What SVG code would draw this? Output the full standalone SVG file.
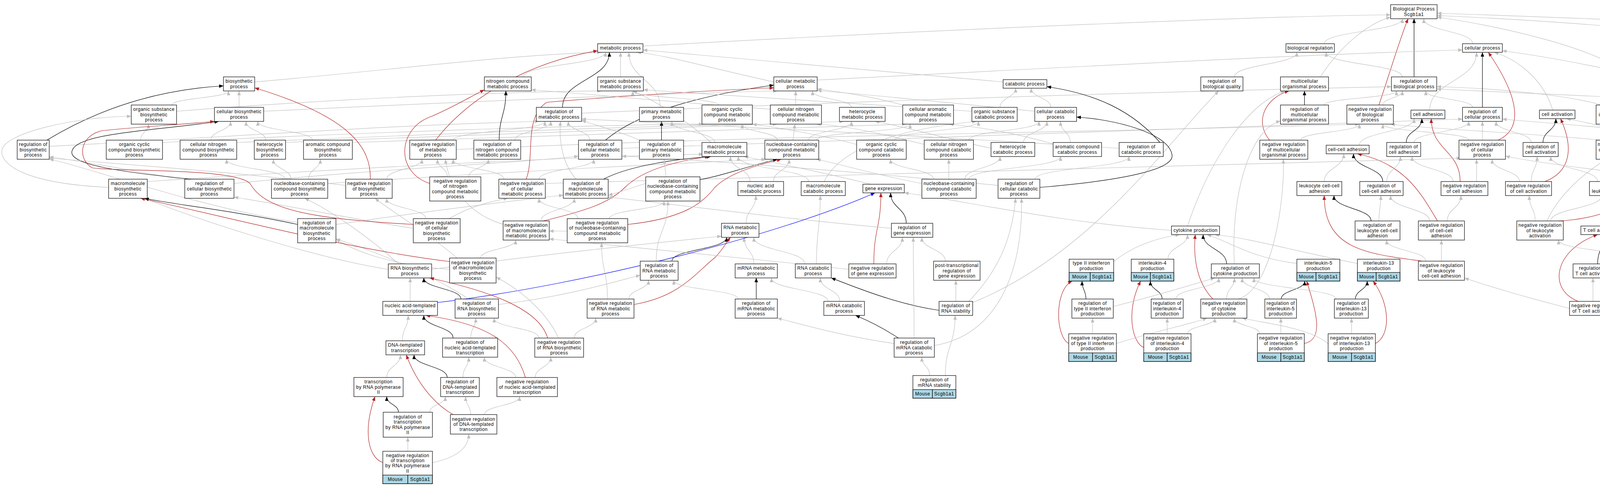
<svg xmlns="http://www.w3.org/2000/svg" width="6682" height="1245" viewBox="0 0 6682 1245">
<defs>
<marker id="ag" markerUnits="userSpaceOnUse" markerWidth="11" markerHeight="9" refX="11" refY="4.5" orient="auto"><path d="M0,0 L11,4.5 L0,9 z" fill="#c0c0c0"/></marker>
<marker id="ak" markerUnits="userSpaceOnUse" markerWidth="11" markerHeight="9" refX="11" refY="4.5" orient="auto"><path d="M0,0 L11,4.5 L0,9 z" fill="#000"/></marker>
<marker id="ar" markerUnits="userSpaceOnUse" markerWidth="11" markerHeight="9" refX="11" refY="4.5" orient="auto"><path d="M0,0 L11,4.5 L0,9 z" fill="#b22222"/></marker>
<marker id="ab" markerUnits="userSpaceOnUse" markerWidth="11" markerHeight="9" refX="11" refY="4.5" orient="auto"><path d="M0,0 L11,4.5 L0,9 z" fill="#0000ff"/></marker>
</defs>
<style>
.n rect{fill:#fff;stroke:#000;stroke-width:1.2}
.n rect.m{fill:#add8e6}
.n rect.t{fill:#ffd700}
.n text{font-family:"Liberation Sans",Arial,sans-serif;font-size:12px;letter-spacing:0.5px;text-anchor:middle;fill:#000}
.e path{fill:none;stroke-width:1.2}
.e .g{stroke:#c0c0c0;marker-end:url(#ag)}
.e .k{stroke:#000;marker-end:url(#ak)}
.e .r{stroke:#b22222;marker-end:url(#ar)}
.e .b{stroke:#0000ff;marker-end:url(#ab)}
</style>
<rect x="0" y="0" width="6682" height="1245" fill="#fff"/>
<g id="edges" class="e">
<path class="g" d="M1646,118 C2500,70 3300,40 3560,38"/>
<path class="g" d="M3390,112 C3390,80 3590,80 3590,48"/>
<path class="g" d="M3770,112 C3770,80 3645,80 3645,48"/>
<path class="k" d="M3620,197 L3620,48"/>
<path class="r" d="M3530,269 C3560,180 3590,80 3605,48"/>
<path class="g" d="M3380,197 C3430,120 3500,60 3560,44"/>
<path class="g" d="M4170,197 C4100,120 3800,60 3679,44"/>
<path class="g" d="M5505,200 C5000,150 4200,60 3679,40"/>
<path class="g" d="M5469,115 C5000,90 4200,50 3679,34"/>
<path class="g" d="M3590,197 C3590,165 3395,165 3395,134"/>
<path class="g" d="M3160,197 C3160,165 3320,165 3320,134"/>
<path class="k" d="M3339.5,269 L3339.5,233"/>
<path class="r" d="M3250,359 C3210,310 3240,250 3300,233"/>
<path class="g" d="M3040,579 C3100,400 3200,260 3290,233"/>
<path class="g" d="M3390,269 C3390,251 3575,251 3575,233"/>
<path class="g" d="M3540,269 C3540,251 3590,251 3590,233"/>
<path class="g" d="M3770,275 C3770,254 3650,254 3650,233"/>
<path class="g" d="M1489,290 C2400,250 3200,230 3562,222"/>
<path class="g" d="M4100,269 C4000,240 3800,225 3678,222"/>
<path class="g" d="M5045,290 C4600,270 3900,240 3678,228"/>
<path class="k" d="M3795,275 L3795,134"/>
<path class="r" d="M3835,359 C3900,330 3890,250 3810,134"/>
<path class="g" d="M3660,282 C3660,208 3780,208 3780,134"/>
<path class="g" d="M3975,282 C3950,200 3880,150 3825,134"/>
<path class="g" d="M4526,280 C4300,210 4000,150 3846,130"/>
<path class="g" d="M2092,205 C2600,180 3300,140 3744,128"/>
<path class="g" d="M3330,359 C3330,338 3480,338 3480,318"/>
<path class="g" d="M3760,359 C3760,338 3540,338 3540,318"/>
<path class="g" d="M4100,359 C3900,340 3650,330 3560,318"/>
<path class="g" d="M1168,383 C2000,345 3000,335 3480,318"/>
<path class="g" d="M3620,365 C3620,338 3760,338 3760,311"/>
<path class="g" d="M3920,365 C3920,338 3830,338 3830,311"/>
<path class="g" d="M3795,359 L3795,311"/>
<path class="g" d="M1592,380 C2500,345 3400,320 3744,305"/>
<path class="g" d="M4480,370 C4200,330 3950,315 3846,305"/>
<path class="k" d="M3600,365 C3600,335 3640,335 3640,304"/>
<path class="r" d="M3738,465 C3738,385 3664,385 3664,304"/>
<path class="g" d="M3720,465 C3720,433 3615,433 3615,401"/>
<path class="g" d="M3780,465 L3780,408"/>
<path class="g" d="M3480,372 C3480,338 3620,338 3620,304"/>
<path class="k" d="M3950,365 C3950,335 3983,335 3983,304"/>
<path class="r" d="M3955,465 C4020,440 4030,380 3995,304"/>
<path class="g" d="M3920,465 C3920,433 3935,433 3935,401"/>
<path class="g" d="M3890,465 C3890,437 3820,437 3820,408"/>
<path class="g" d="M4310,380 C4200,350 4100,320 4010,304"/>
<path class="k" d="M3540,465 C3540,430 3465,430 3465,394"/>
<path class="g" d="M3390,465 C3390,430 3440,430 3440,394"/>
<path class="r" d="M3680,566 C3640,500 3600,420 3475,394"/>
<path class="g" d="M3550,465 C3550,433 3585,433 3585,401"/>
<path class="g" d="M3660,566 C3660,534 3560,534 3560,501"/>
<path class="g" d="M3705,566 C3705,534 3740,534 3740,501"/>
<path class="k" d="M3510,566 C3510,534 3415,534 3415,501"/>
<path class="r" d="M3641,669 C3500,650 3390,640 3390,501"/>
<path class="g" d="M3530,566 C3530,534 3535,534 3535,501"/>
<path class="g" d="M3650,669 C3650,642 3550,642 3550,615"/>
<path class="g" d="M3690,669 L3690,615"/>
<path class="k" d="M4140,465 C4140,430 4330,430 4330,394"/>
<path class="r" d="M3990,566 C4150,560 4230,480 4340,394"/>
<path class="g" d="M4365,472 L4367,394"/>
<path class="g" d="M4350,372 C4350,300 4205,300 4205,233"/>
<path class="g" d="M4090,465 C4090,433 3970,433 3970,401"/>
<path class="g" d="M4160,465 C4240,420 4220,360 4180,318"/>
<path class="g" d="M3970,566 C3970,534 4100,534 4100,501"/>
<path class="g" d="M3930,566 C3930,534 3915,534 3915,501"/>
<path class="g" d="M3960,566 C4000,480 4080,430 4110,408"/>
<path class="k" d="M4155,269 C4155,251 4175,251 4175,233"/>
<path class="r" d="M4170,359 C4215,330 4210,280 4200,233"/>
<path class="g" d="M4140,359 L4140,318"/>
<path class="g" d="M4120,579 C4120,537 4330,537 4330,494"/>
<path class="k" d="M4090,676 C4090,639 4105,639 4105,601"/>
<path class="r" d="M4040,772 C3960,740 3980,640 4090,601"/>
<path class="g" d="M4078,772 L4078,712"/>
<path class="g" d="M4110,676 C4110,642 4210,642 4210,608"/>
<path class="g" d="M4120,772 C4120,745 4190,745 4190,718"/>
<path class="g" d="M4018,790 C3900,760 3800,730 3749,712"/>
<path class="g" d="M4338,682 C4300,650 4200,620 4140,601"/>
<path class="k" d="M4280,572 C4280,533 4345,533 4345,494"/>
<path class="g" d="M4240,572 C4240,537 4160,537 4160,501"/>
<path class="r" d="M4250,669 C4350,640 4380,620 4370,494"/>
<path class="g" d="M4240,669 C4240,639 4260,639 4260,608"/>
<path class="g" d="M4190,669 C4190,642 3990,642 3990,615"/>
<path class="g" d="M4490,579 C4490,537 4390,537 4390,494"/>
<path class="k" d="M4540,359 C4540,335 4565,335 4565,311"/>
<path class="r" d="M4560,459 C4610,430 4610,360 4590,311"/>
<path class="g" d="M4530,459 L4528,408"/>
<path class="g" d="M4476,480 C4200,450 3950,420 3854,400"/>
<path class="g" d="M4740,372 C4740,342 4605,342 4605,311"/>
<path class="g" d="M4705,465 C4705,430 4750,430 4750,394"/>
<path class="k" d="M4830,465 C4830,430 4790,430 4790,394"/>
<path class="r" d="M4920,566 C4960,520 4930,460 4800,394"/>
<path class="g" d="M4800,465 C4800,437 4570,437 4570,408"/>
<path class="g" d="M4540,579 C4540,540 4660,540 4660,501"/>
<path class="k" d="M4690.5,566 L4690.5,501"/>
<path class="r" d="M4780,669 C4790,600 4760,530 4710,501"/>
<path class="g" d="M4730,566 C4730,534 4820,534 4820,501"/>
<path class="g" d="M4760,669 C4760,642 4720,642 4720,615"/>
<path class="g" d="M4830,669 C4830,642 4870,642 4870,615"/>
<path class="g" d="M4890,566 C4890,534 4870,534 4870,501"/>
<path class="g" d="M4845,566 C4845,537 4580,537 4580,508"/>
<path class="k" d="M4565,676 C4565,639 4530,639 4530,601"/>
<path class="r" d="M4620,766 C4700,730 4680,680 4540,601"/>
<path class="g" d="M4600,676 C4600,645 4670,645 4670,615"/>
<path class="g" d="M4520,676 C4520,642 4320,642 4320,608"/>
<path class="g" d="M4577,766 L4577,712"/>
<path class="g" d="M4630,766 C4630,742 4770,742 4770,718"/>
<path class="g" d="M4525,766 C4525,742 4280,742 4280,718"/>
<path class="g" d="M4440,671 C4440,636 4510,636 4510,601"/>
<path class="k" d="M4380,772 C4380,744 4370,744 4370,716"/>
<path class="g" d="M4420,772 C4420,742 4550,742 4550,712"/>
<path class="g" d="M4340,772 C4340,742 4110,742 4110,712"/>
<path class="g" d="M4345,861 C4345,835 4370,835 4370,808"/>
<path class="r" d="M4330,861 C4290,840 4280,760 4345,716"/>
<path class="g" d="M4395,861 C4395,838 4560,838 4560,815"/>
<path class="g" d="M4280,861 C4280,835 4100,835 4100,808"/>
<path class="g" d="M2990,664 C2990,632 3040,632 3040,601"/>
<path class="k" d="M3140,676 C3140,638 3080,638 3080,601"/>
<path class="r" d="M3105,766 C3060,720 3055,650 3060,601"/>
<path class="g" d="M3320,675 C3200,660 3150,620 3090,601"/>
<path class="g" d="M3475,675 C3300,640 3200,610 3110,601"/>
<path class="g" d="M2851,670 C2900,630 2960,610 3020,601"/>
<path class="g" d="M2999,590 C2700,570 2450,510 2315,494"/>
<path class="g" d="M3160,676 C3150,500 3200,330 3278,310"/>
<path class="g" d="M3140,766 C3140,739 3160,739 3160,712"/>
<path class="g" d="M3170,766 C3260,740 3290,500 3285,408"/>
<path class="k" d="M2975,766 C2975,743 2945,743 2945,720"/>
<path class="g" d="M3010,766 C3010,739 3120,739 3120,712"/>
<path class="g" d="M2988,855 L2988,815"/>
<path class="r" d="M2928,890 C2900,880 2880,800 2920,720"/>
<path class="g" d="M3040,855 C3040,835 3110,835 3110,815"/>
<path class="k" d="M3280,766 C3280,743 3340,743 3340,720"/>
<path class="g" d="M3250,766 C3250,739 3180,739 3180,712"/>
<path class="g" d="M3279,855 L3279,815"/>
<path class="r" d="M3339,880 C3390,870 3370,800 3345,720"/>
<path class="g" d="M3225,855 C3225,835 3160,835 3160,815"/>
<path class="k" d="M3470,766 C3470,743 3500,743 3500,720"/>
<path class="g" d="M3420,766 C3420,739 3210,739 3210,712"/>
<path class="g" d="M3460,855 L3460,815"/>
<path class="r" d="M3521,880 C3560,860 3560,780 3515,720"/>
<path class="g" d="M3400,880 C3350,840 3250,830 3180,815"/>
<path class="k" d="M2780,766 C2780,743 2770,743 2770,720"/>
<path class="g" d="M2850,785 C2950,760 3050,730 3110,712"/>
<path class="g" d="M2797,855 L2797,815"/>
<path class="r" d="M2736,880 C2700,860 2700,740 2745,720"/>
<path class="g" d="M2858,880 C2950,850 3050,830 3090,815"/>
<path class="g" d="M652,210 C1000,180 1300,140 1540,134"/>
<path class="g" d="M612,275 L612,233"/>
<path class="g" d="M675,285 C1200,260 1700,240 1990,233"/>
<path class="g" d="M440,269 C440,251 585,251 585,233"/>
<path class="g" d="M452,285 C900,250 1300,235 1540,233"/>
<path class="k" d="M120,359 C250,280 400,230 572,220"/>
<path class="g" d="M126,375 C600,350 1000,320 1380,311"/>
<path class="g" d="M360,359 C360,338 380,338 380,318"/>
<path class="g" d="M416,365 C900,340 1500,320 1800,318"/>
<path class="g" d="M540,359 C540,335 590,335 590,311"/>
<path class="g" d="M606,365 C1200,340 1700,320 1990,318"/>
<path class="g" d="M680,359 C680,335 630,335 630,311"/>
<path class="g" d="M731,365 C1300,340 1900,320 2160,311"/>
<path class="g" d="M800,359 C800,335 660,335 660,311"/>
<path class="g" d="M902,365 C1500,345 2000,325 2320,318"/>
<path class="g" d="M278,480 C60,470 0,420 5,385 C10,340 200,298 336,298"/>
<path class="g" d="M377,465 C900,430 1500,400 1800,395"/>
<path class="g" d="M480,462 C350,440 200,410 126,402"/>
<path class="k" d="M490,459 C300,440 170,420 185,385 C200,340 400,335 560,311"/>
<path class="g" d="M599,470 C1000,430 1300,420 1481,400"/>
<path class="g" d="M745,459 C745,433 700,433 700,408"/>
<path class="g" d="M790,459 C790,433 820,433 820,408"/>
<path class="g" d="M730,459 C730,433 580,433 580,408"/>
<path class="g" d="M839,470 C1300,440 1700,420 1960,408"/>
<path class="g" d="M885,475 C600,440 300,420 126,405"/>
<path class="r" d="M948,459 C950,380 900,300 652,225"/>
<path class="g" d="M990,459 C990,433 1080,433 1080,408"/>
<path class="r" d="M1115,359 C1200,250 1350,160 1530,130"/>
<path class="g" d="M1160,359 C1160,335 1395,335 1395,311"/>
<path class="k" d="M1440,275 C1440,204 1560,204 1560,134"/>
<path class="g" d="M1340,197 C1340,165 1550,165 1550,134"/>
<path class="k" d="M1278,359 C1278,296 1295,296 1295,233"/>
<path class="g" d="M1318,359 C1318,335 1410,335 1410,311"/>
<path class="g" d="M1200,453 C1200,430 1250,430 1250,408"/>
<path class="g" d="M1145,453 C1145,430 1120,430 1120,408"/>
<path class="r" d="M1100,470 C1010,440 1020,330 1100,300 C1150,280 1200,250 1240,230"/>
<path class="g" d="M1588.5,197 L1588.5,134"/>
<path class="g" d="M1690,275 C1690,204 1610,204 1610,134"/>
<path class="g" d="M1981,210 C1800,170 1700,140 1630,134"/>
<path class="g" d="M1510,359 C1510,335 1455,335 1455,311"/>
<path class="k" d="M1550,359 C1620,300 1750,250 1981,218"/>
<path class="k" d="M1693.5,359 L1693.5,311"/>
<path class="g" d="M1650,365 C1600,340 1520,320 1489,308"/>
<path class="g" d="M1380,459 C1380,433 1520,433 1520,408"/>
<path class="g" d="M1290,459 C1290,433 1160,433 1160,408"/>
<path class="r" d="M1347,459 C1370,400 1340,300 1400,262 C1600,245 1850,230 1981,225"/>
<path class="g" d="M1396,470 C2500,440 3400,420 3740,405"/>
<path class="g" d="M1475,459 C1440,420 1430,360 1435,311"/>
<path class="k" d="M1545,459 C1600,430 1700,410 1820,401"/>
<path class="g" d="M1385,566 C1385,537 1470,537 1470,508"/>
<path class="g" d="M1290,575 C1200,550 1150,480 1140,408"/>
<path class="r" d="M1390,566 C1500,540 1560,520 1600,480 C1650,430 1750,410 1815,401"/>
<path class="k" d="M1792,460 C1850,450 1900,430 1990,408"/>
<path class="g" d="M1705,453 L1700,408"/>
<path class="g" d="M1653,470 C1620,480 1580,495 1557,500"/>
<path class="g" d="M1560,560 C1560,537 1700,537 1700,515"/>
<path class="r" d="M1607,575 C1750,560 1800,520 1830,480 C1870,440 1950,420 2000,408"/>
<path class="g" d="M1452,592 L1406,592"/>
<path class="g" d="M1480,560 C1480,534 1380,534 1380,508"/>
<path class="g" d="M1830,365 C1830,338 1720,338 1720,311"/>
<path class="g" d="M1820,365 C1750,300 1660,250 1620,233"/>
<path class="g" d="M1990,359 C1990,338 1900,338 1900,318"/>
<path class="g" d="M2030,359 L2035,318"/>
<path class="g" d="M2070,359 C2070,335 2180,335 2180,311"/>
<path class="g" d="M2090,359 C2090,338 2330,338 2330,318"/>
<path class="g" d="M1840,269 C1840,251 1620,251 1620,233"/>
<path class="g" d="M2037,269 L2037,233"/>
<path class="g" d="M1975,280 C1700,260 1500,240 1360,230"/>
<path class="g" d="M2180,275 C2180,254 2080,254 2080,233"/>
<path class="g" d="M2320,272 C2250,250 2150,235 2092,228"/>
<path class="g" d="M1920,465 C1920,433 1870,433 1870,401"/>
<path class="g" d="M1980,465 C1980,437 2020,437 2020,408"/>
<path class="g" d="M2070,465 C2070,433 1890,433 1890,401"/>
<path class="g" d="M2110,465 C2150,380 2300,330 2500,311"/>
<path class="g" d="M2230,472 C2100,440 1950,410 1905,401"/>
<path class="g" d="M1910,572 C1910,537 1935,537 1935,501"/>
<path class="k" d="M1720,669 C1720,639 1860,639 1860,608"/>
<path class="g" d="M1680,669 C1680,592 1710,592 1710,515"/>
<path class="g" d="M1610,766 C1610,742 1660,742 1660,718"/>
<path class="r" d="M1623,780 C1740,760 1780,700 1830,660 C1850,640 1860,620 1870,608"/>
<path class="g" d="M1555,766 C1555,694 1540,694 1540,622"/>
<path class="g" d="M1930,676 C1930,642 1905,642 1905,608"/>
<path class="g" d="M2060,676 C2060,642 1930,642 1930,608"/>
<path class="g" d="M2090,676 C2090,588 2100,588 2100,501"/>
<path class="k" d="M1936,766 L1936,712"/>
<path class="g" d="M1890,766 C1890,742 1725,742 1725,718"/>
<path class="g" d="M2150,772 C2150,742 2100,742 2100,712"/>
<path class="g" d="M2120,772 C2120,742 1975,742 1975,712"/>
<path class="r" d="M2237,676 C2237,585 2255,585 2255,494"/>
<path class="g" d="M2270,676 C2270,642 2310,642 2310,608"/>
<path class="g" d="M2173,690 C1900,660 1600,630 1406,612"/>
<path class="k" d="M2320,572 C2320,533 2280,533 2280,494"/>
<path class="g" d="M2282,585 C2000,560 1700,520 1557,505"/>
<path class="g" d="M2420,669 C2420,638 2360,638 2360,608"/>
<path class="g" d="M2447,772 L2447,718"/>
<path class="k" d="M2404,795 C2300,780 2200,740 2128,712"/>
<path class="g" d="M2480,772 C2550,700 2590,620 2600,508"/>
<path class="g" d="M2490,775 C2800,650 3000,350 3120,233"/>
<path class="k" d="M2300,866 C2260,840 2220,820 2190,808"/>
<path class="g" d="M2340,866 C2340,737 2338,737 2338,608"/>
<path class="g" d="M2289,880 C2150,860 2050,830 1990,815"/>
<path class="g" d="M2392,885 C2550,860 2620,700 2615,508"/>
<path class="g" d="M2420,962 C2420,885 2445,885 2445,808"/>
<path class="g" d="M2380,962 C2380,938 2360,938 2360,915"/>
<path class="g" d="M2568,210 C2200,180 1900,150 1646,128"/>
<path class="g" d="M2560,275 C2560,250 2600,250 2600,226"/>
<path class="g" d="M2690,275 C2690,250 2640,250 2640,226"/>
<path class="g" d="M2488,285 C2100,260 1800,240 1647,230"/>
<path class="g" d="M2649,285 C2400,260 2200,240 2092,232"/>
<path class="k" d="M2978,375 C2900,280 2800,240 2680,222"/>
<path class="g" d="M2865,380 C2400,350 1800,320 1489,305"/>
<path class="k" d="M2662,480 C2900,460 3010,430 3000,395 C2990,340 2850,305 2756,300"/>
<path class="g" d="M2650,459 C2650,430 2890,430 2890,401"/>
<path class="g" d="M2555,475 C2200,440 1800,410 1592,400"/>
<path class="g" d="M2620,365 C2620,338 2680,338 2680,311"/>
<path class="g" d="M2537,380 C2400,350 2300,320 2240,311"/>
<path class="g" d="M2470,459 C2470,430 2560,430 2560,401"/>
<path class="g" d="M2480,459 C2480,430 2715,430 2715,401"/>
<path class="g" d="M2429,459 L2429,408"/>
<path class="g" d="M2390,459 C2390,433 2280,433 2280,408"/>
<path class="g" d="M2360,470 C2250,450 2150,420 2090,408"/>
<path class="g" d="M2480,359 C2480,335 2660,335 2660,311"/>
<path class="g" d="M2366,370 C2250,340 2150,320 2090,318"/>
<path class="g" d="M2740,365 C2740,338 2715,338 2715,311"/>
<path class="g" d="M2700,370 C2600,340 2500,325 2430,318"/>
<path class="g" d="M2290,359 C2290,335 2505,335 2505,311"/>
<path class="g" d="M2193,370 C2100,345 1980,325 1926,318"/>
<path class="g" d="M1020,676 C960,620 850,540 780,508"/>
<path class="g" d="M1105,690 C1400,650 1700,620 1847,605"/>
<path class="g" d="M994,690 C800,660 500,560 370,508"/>
<path class="g" d="M1050,772 L1050,712"/>
<path class="b" d="M1120,775 C1500,730 2000,600 2240,494"/>
<path class="g" d="M1030,873 C1030,840 1045,840 1045,808"/>
<path class="g" d="M990,967 C990,938 1025,938 1025,909"/>
<path class="k" d="M1020,1056 C1020,1036 990,1036 990,1016"/>
<path class="g" d="M1100,1056 C1100,1036 1140,1036 1140,1016"/>
<path class="r" d="M980,1185 C940,1170 930,1100 960,1016"/>
<path class="g" d="M1044,1156 L1044,1120"/>
<path class="g" d="M1107,1185 C1180,1170 1200,1140 1200,1112"/>
<path class="k" d="M1145,967 C1145,938 1060,938 1060,909"/>
<path class="g" d="M1185,967 C1185,941 1200,941 1200,915"/>
<path class="r" d="M1160,1062 C1120,1040 1070,990 1040,909"/>
<path class="g" d="M1205,1062 C1205,1039 1192,1039 1192,1016"/>
<path class="g" d="M1240,1062 C1240,1039 1330,1039 1330,1016"/>
<path class="k" d="M1160,866 C1160,837 1085,837 1085,808"/>
<path class="g" d="M1205,866 C1205,840 1218,840 1218,815"/>
<path class="r" d="M1345,967 C1320,880 1250,830 1090,808"/>
<path class="g" d="M1320,967 C1320,941 1240,941 1240,915"/>
<path class="g" d="M1370,967 C1370,941 1410,941 1410,915"/>
<path class="k" d="M1180,766 C1180,739 1085,739 1085,712"/>
<path class="g" d="M1276,780 C1450,760 1580,720 1639,705"/>
<path class="g" d="M1200,766 C1100,700 950,640 860,612"/>
<path class="g" d="M1380,866 C1380,840 1265,840 1265,815"/>
<path class="r" d="M1402,866 C1380,790 1250,745 1100,712"/>
<path class="g" d="M1470,866 C1470,840 1525,840 1525,815"/>
<path class="g" d="M1430,866 C1400,800 1330,740 1270,710"/>
<path class="k" d="M762,575 C600,540 420,520 370,508"/>
<path class="g" d="M762,570 C500,530 200,420 126,408"/>
<path class="g" d="M860,575 C1100,540 1350,510 1442,500"/>
<path class="g" d="M1151,690 C1000,680 900,640 860,612"/>
<path class="r" d="M1151,670 C900,640 600,560 360,508"/>
<path class="g" d="M1170,661 C1100,600 1000,540 960,508"/>
<path class="g" d="M1230,661 C1230,638 1320,638 1320,615"/>
<path class="g" d="M1058,585 C900,560 700,520 599,505"/>
<path class="g" d="M1090,560 C1090,534 990,534 990,508"/>
<path class="r" d="M1058,575 C800,560 680,540 640,470 C600,430 300,440 236,430 C200,410 200,350 260,335 C350,325 480,318 549,311"/>
<path class="g" d="M1150,560 C1200,530 1260,515 1300,508"/>
<path class="g" d="M5542,275 L5542,233"/>
<path class="g" d="M5680,275 C5680,254 5565,254 5565,233"/>
<path class="g" d="M5810,275 C5810,254 5578,254 5578,233"/>
<path class="g" d="M5415,280 C5460,260 5490,240 5510,233"/>
<path class="g" d="M6401,290 C6000,270 5700,240 5582,225"/>
<path class="k" d="M5127,290 C5300,260 5420,235 5502,225"/>
<path class="g" d="M4960,359 C4960,338 5060,338 5060,318"/>
<path class="k" d="M4977,365 C5100,340 5250,320 5336,305"/>
<path class="g" d="M5200,359 C5200,338 5110,338 5110,318"/>
<path class="k" d="M5280,359 C5350,330 5420,320 5488,305"/>
<path class="g" d="M5110,372 C5110,341 5350,341 5350,311"/>
<path class="k" d="M5079,465 L5079,394"/>
<path class="g" d="M5050,465 C5050,437 4960,437 4960,408"/>
<path class="g" d="M5200,465 C5200,430 5110,430 5110,394"/>
<path class="k" d="M5224,555 L5224,501"/>
<path class="g" d="M5169,580 C5120,570 5100,540 5090,501"/>
<path class="g" d="M5279,580 C5330,570 5320,480 5270,408"/>
<path class="g" d="M5385,365 L5380,311"/>
<path class="g" d="M5410,459 C5410,430 5395,430 5395,401"/>
<path class="g" d="M5450,459 C5450,433 5510,433 5510,408"/>
<path class="g" d="M5428,562 L5428,508"/>
<path class="g" d="M5479,580 C5650,560 5720,520 5715,401"/>
<path class="g" d="M5590,359 C5590,335 5680,335 5680,311"/>
<path class="g" d="M5709.5,365 L5709.5,311"/>
<path class="g" d="M5865,359 C5865,335 5850,335 5850,311"/>
<path class="g" d="M5820,365 C5700,340 5650,320 5598,311"/>
<path class="g" d="M5956,375 C5900,340 5800,320 5749,311"/>
<path class="g" d="M5590,454 C5590,431 5555,431 5555,408"/>
<path class="g" d="M5660,454 C5660,428 5710,428 5710,401"/>
<path class="g" d="M5870,465 L5868,408"/>
<path class="g" d="M5924,470 C6100,440 6120,380 6050,300 C5950,200 5750,140 5593,128"/>
<path class="g" d="M6122,470 C6150,460 6150,420 6177,410"/>
<path class="g" d="M5876,572 L5876,501"/>
<path class="b" d="M5876,669 L5876,608"/>
<path class="g" d="M5840,669 C5780,630 5790,500 5830,408"/>
<path class="g" d="M5910,669 C6000,600 5960,450 6177,412"/>
<path class="g" d="M5876,761 L5876,718"/>
<path class="g" d="M5816,780 C5600,770 5540,600 5535,408"/>
<path class="g" d="M5936,780 C6050,760 6150,620 6200,501"/>
<path class="g" d="M6177,375 C6000,340 5850,320 5749,305"/>
<path class="g" d="M6206,465 L6210,412"/>
<path class="g" d="M6310,459 C6310,435 6230,435 6230,412"/>
<path class="g" d="M6450,465 C6400,440 6300,430 6245,412"/>
<path class="g" d="M6468,465 L6468,311"/>
<path class="g" d="M6310,572 C6310,536 6225,536 6225,501"/>
<path class="g" d="M6336,572 L6336,508"/>
<path class="g" d="M6360,572 C6360,536 6450,536 6450,501"/>
<path class="g" d="M6336,676 L6336,608"/>
<path class="g" d="M6336,761 L6336,712"/>
<path class="g" d="M6560,365 C6560,338 6500,338 6500,311"/>
<path class="g" d="M6608,448 C6608,425 6595,425 6595,401"/>
</g>
<g id="n-BP" class="n"><rect x="3560" y="12" width="119" height="36"/><text><tspan x="3619.5" y="27.4">Biological Process</tspan><tspan x="3619.5" y="40.7">Scgb1a1</tspan></text></g>
<g id="n-MP" class="n"><rect x="1530" y="112" width="116" height="22"/><text><tspan x="1588" y="127">metabolic process</tspan></text></g>
<g id="n-BR" class="n"><rect x="3292" y="112" width="124" height="22"/><text><tspan x="3354" y="127">biological regulation</tspan></text></g>
<g id="n-CP" class="n"><rect x="3744" y="112" width="102" height="22"/><text><tspan x="3795" y="127">cellular process</tspan></text></g>
<g id="n-BPI" class="n"><rect x="5469" y="84" width="124" height="76"/><text><tspan x="5531" y="99.4">biological process</tspan><tspan x="5531" y="112.7">involved in</tspan><tspan x="5531" y="126">interspecies</tspan><tspan x="5531" y="139.3">interaction</tspan><tspan x="5531" y="152.6">between organisms</tspan></text></g>
<g id="n-BS" class="n"><rect x="572" y="197" width="80" height="36"/><text><tspan x="612" y="212.4">biosynthetic</tspan><tspan x="612" y="225.7">process</tspan></text></g>
<g id="n-NCM" class="n"><rect x="1240" y="197" width="120" height="36"/><text><tspan x="1300" y="212.4">nitrogen compound</tspan><tspan x="1300" y="225.7">metabolic process</tspan></text></g>
<g id="n-OSM" class="n"><rect x="1530" y="197" width="117" height="36"/><text><tspan x="1588.5" y="212.4">organic substance</tspan><tspan x="1588.5" y="225.7">metabolic process</tspan></text></g>
<g id="n-CM" class="n"><rect x="1981" y="197" width="111" height="36"/><text><tspan x="2036.5" y="212.4">cellular metabolic</tspan><tspan x="2036.5" y="225.7">process</tspan></text></g>
<g id="n-CAT" class="n"><rect x="2568" y="204" width="112" height="22"/><text><tspan x="2624" y="219">catabolic process</tspan></text></g>
<g id="n-RBQ" class="n"><rect x="3074" y="197" width="108" height="36"/><text><tspan x="3128" y="212.4">regulation of</tspan><tspan x="3128" y="225.7">biological quality</tspan></text></g>
<g id="n-MOP" class="n"><rect x="3278" y="197" width="123" height="36"/><text><tspan x="3339.5" y="212.4">multicellular</tspan><tspan x="3339.5" y="225.7">organismal process</tspan></text></g>
<g id="n-RBP" class="n"><rect x="3562" y="197" width="116" height="36"/><text><tspan x="3620" y="212.4">regulation of</tspan><tspan x="3620" y="225.7">biological process</tspan></text></g>
<g id="n-ISP" class="n"><rect x="4136" y="197" width="102" height="36"/><text><tspan x="4187" y="212.4">immune system</tspan><tspan x="4187" y="225.7">process</tspan></text></g>
<g id="n-RS" class="n"><rect x="5502" y="197" width="80" height="36"/><text><tspan x="5542" y="212.4">response to</tspan><tspan x="5542" y="225.7">stimulus</tspan></text></g>
<g id="n-OSB" class="n"><rect x="336" y="269" width="116" height="49"/><text><tspan x="394" y="284.2">organic substance</tspan><tspan x="394" y="297.5">biosynthetic</tspan><tspan x="394" y="310.8">process</tspan></text></g>
<g id="n-CB" class="n"><rect x="549" y="275" width="126" height="36"/><text><tspan x="612" y="290.4">cellular biosynthetic</tspan><tspan x="612" y="303.7">process</tspan></text></g>
<g id="n-RMP" class="n"><rect x="1373" y="275" width="116" height="36"/><text><tspan x="1431" y="290.4">regulation of</tspan><tspan x="1431" y="303.7">metabolic process</tspan></text></g>
<g id="n-PM" class="n"><rect x="1637" y="275" width="113" height="36"/><text><tspan x="1693.5" y="290.4">primary metabolic</tspan><tspan x="1693.5" y="303.7">process</tspan></text></g>
<g id="n-OCCM" class="n"><rect x="1797" y="269" width="129" height="49"/><text><tspan x="1861.5" y="284.2">organic cyclic</tspan><tspan x="1861.5" y="297.5">compound metabolic</tspan><tspan x="1861.5" y="310.8">process</tspan></text></g>
<g id="n-CNCM" class="n"><rect x="1972" y="269" width="131" height="49"/><text><tspan x="2037.5" y="284.2">cellular nitrogen</tspan><tspan x="2037.5" y="297.5">compound metabolic</tspan><tspan x="2037.5" y="310.8">process</tspan></text></g>
<g id="n-HM" class="n"><rect x="2149" y="275" width="117" height="36"/><text><tspan x="2207.5" y="290.4">heterocycle</tspan><tspan x="2207.5" y="303.7">metabolic process</tspan></text></g>
<g id="n-CACM" class="n"><rect x="2311" y="269" width="130" height="49"/><text><tspan x="2376" y="284.2">cellular aromatic</tspan><tspan x="2376" y="297.5">compound metabolic</tspan><tspan x="2376" y="310.8">process</tspan></text></g>
<g id="n-OSC" class="n"><rect x="2488" y="275" width="116" height="36"/><text><tspan x="2546" y="290.4">organic substance</tspan><tspan x="2546" y="303.7">catabolic process</tspan></text></g>
<g id="n-CC" class="n"><rect x="2649" y="275" width="107" height="36"/><text><tspan x="2702.5" y="290.4">cellular catabolic</tspan><tspan x="2702.5" y="303.7">process</tspan></text></g>
<g id="n-RMOP" class="n"><rect x="3278" y="269" width="123" height="49"/><text><tspan x="3339.5" y="284.2">regulation of</tspan><tspan x="3339.5" y="297.5">multicellular</tspan><tspan x="3339.5" y="310.8">organismal process</tspan></text></g>
<g id="n-NRBP" class="n"><rect x="3448" y="269" width="119" height="49"/><text><tspan x="3507.5" y="284.2">negative regulation</tspan><tspan x="3507.5" y="297.5">of biological</tspan><tspan x="3507.5" y="310.8">process</tspan></text></g>
<g id="n-CA" class="n"><rect x="3612" y="282" width="87" height="22"/><text><tspan x="3655.5" y="297">cell adhesion</tspan></text></g>
<g id="n-RCP" class="n"><rect x="3744" y="275" width="102" height="36"/><text><tspan x="3795" y="290.4">regulation of</tspan><tspan x="3795" y="303.7">cellular process</tspan></text></g>
<g id="n-CACT" class="n"><rect x="3941" y="282" width="91" height="22"/><text><tspan x="3986.5" y="297">cell activation</tspan></text></g>
<g id="n-RISP" class="n"><rect x="4086" y="269" width="104" height="49"/><text><tspan x="4138" y="284.2">regulation of</tspan><tspan x="4138" y="297.5">immune system</tspan><tspan x="4138" y="310.8">process</tspan></text></g>
<g id="n-CPP" class="n"><rect x="4526" y="275" width="94" height="36"/><text><tspan x="4573" y="290.4">cell population</tspan><tspan x="4573" y="303.7">proliferation</tspan></text></g>
<g id="n-RRS" class="n"><rect x="5045" y="269" width="82" height="49"/><text><tspan x="5086" y="284.2">regulation of</tspan><tspan x="5086" y="297.5">response to</tspan><tspan x="5086" y="310.8">stimulus</tspan></text></g>
<g id="n-RST" class="n"><rect x="5336" y="275" width="79" height="36"/><text><tspan x="5375.5" y="290.4">response to</tspan><tspan x="5375.5" y="303.7">stress</tspan></text></g>
<g id="n-RES" class="n"><rect x="5488" y="275" width="110" height="36"/><text><tspan x="5543" y="290.4">response to</tspan><tspan x="5543" y="303.7">external stimulus</tspan></text></g>
<g id="n-RCH" class="n"><rect x="5670" y="275" width="79" height="36"/><text><tspan x="5709.5" y="290.4">response to</tspan><tspan x="5709.5" y="303.7">chemical</tspan></text></g>
<g id="n-RBS" class="n"><rect x="5805" y="275" width="95" height="36"/><text><tspan x="5852.5" y="290.4">response to</tspan><tspan x="5852.5" y="303.7">biotic stimulus</tspan></text></g>
<g id="n-REN" class="n"><rect x="6401" y="275" width="134" height="36"/><text><tspan x="6468" y="290.4">response to</tspan><tspan x="6468" y="303.7">endogenous stimulus</tspan></text></g>
<g id="n-RBSP" class="n"><rect x="44" y="359" width="82" height="49"/><text><tspan x="85" y="374.2">regulation of</tspan><tspan x="85" y="387.5">biosynthetic</tspan><tspan x="85" y="400.8">process</tspan></text></g>
<g id="n-OCCB" class="n"><rect x="272" y="359" width="144" height="49"/><text><tspan x="344" y="374.2">organic cyclic</tspan><tspan x="344" y="387.5">compound biosynthetic</tspan><tspan x="344" y="400.8">process</tspan></text></g>
<g id="n-CNCB" class="n"><rect x="461" y="359" width="145" height="49"/><text><tspan x="533.5" y="374.2">cellular nitrogen</tspan><tspan x="533.5" y="387.5">compound biosynthetic</tspan><tspan x="533.5" y="400.8">process</tspan></text></g>
<g id="n-HB" class="n"><rect x="651" y="359" width="80" height="49"/><text><tspan x="691" y="374.2">heterocycle</tspan><tspan x="691" y="387.5">biosynthetic</tspan><tspan x="691" y="400.8">process</tspan></text></g>
<g id="n-ACB" class="n"><rect x="777" y="359" width="125" height="49"/><text><tspan x="839.5" y="374.2">aromatic compound</tspan><tspan x="839.5" y="387.5">biosynthetic</tspan><tspan x="839.5" y="400.8">process</tspan></text></g>
<g id="n-NRMP" class="n"><rect x="1049" y="359" width="119" height="49"/><text><tspan x="1108.5" y="374.2">negative regulation</tspan><tspan x="1108.5" y="387.5">of metabolic</tspan><tspan x="1108.5" y="400.8">process</tspan></text></g>
<g id="n-RNCM" class="n"><rect x="1213" y="359" width="120" height="49"/><text><tspan x="1273" y="374.2">regulation of</tspan><tspan x="1273" y="387.5">nitrogen compound</tspan><tspan x="1273" y="400.8">metabolic process</tspan></text></g>
<g id="n-RCMP" class="n"><rect x="1481" y="359" width="111" height="49"/><text><tspan x="1536.5" y="374.2">regulation of</tspan><tspan x="1536.5" y="387.5">cellular metabolic</tspan><tspan x="1536.5" y="400.8">process</tspan></text></g>
<g id="n-RPM" class="n"><rect x="1637" y="359" width="113" height="49"/><text><tspan x="1693.5" y="374.2">regulation of</tspan><tspan x="1693.5" y="387.5">primary metabolic</tspan><tspan x="1693.5" y="400.8">process</tspan></text></g>
<g id="n-MM" class="n"><rect x="1797" y="365" width="115" height="36"/><text><tspan x="1854.5" y="380.4">macromolecule</tspan><tspan x="1854.5" y="393.7">metabolic process</tspan></text></g>
<g id="n-NBM" class="n"><rect x="1958" y="359" width="138" height="49"/><text><tspan x="2027" y="374.2">nucleobase-containing</tspan><tspan x="2027" y="387.5">compound metabolic</tspan><tspan x="2027" y="400.8">process</tspan></text></g>
<g id="n-OCCC" class="n"><rect x="2193" y="359" width="127" height="49"/><text><tspan x="2256.5" y="374.2">organic cyclic</tspan><tspan x="2256.5" y="387.5">compound catabolic</tspan><tspan x="2256.5" y="400.8">process</tspan></text></g>
<g id="n-CNCC" class="n"><rect x="2366" y="359" width="126" height="49"/><text><tspan x="2429" y="374.2">cellular nitrogen</tspan><tspan x="2429" y="387.5">compound catabolic</tspan><tspan x="2429" y="400.8">process</tspan></text></g>
<g id="n-HC" class="n"><rect x="2537" y="365" width="112" height="36"/><text><tspan x="2593" y="380.4">heterocycle</tspan><tspan x="2593" y="393.7">catabolic process</tspan></text></g>
<g id="n-ACC" class="n"><rect x="2696" y="365" width="124" height="36"/><text><tspan x="2758" y="380.4">aromatic compound</tspan><tspan x="2758" y="393.7">catabolic process</tspan></text></g>
<g id="n-RCAT" class="n"><rect x="2865" y="365" width="113" height="36"/><text><tspan x="2921.5" y="380.4">regulation of</tspan><tspan x="2921.5" y="393.7">catabolic process</tspan></text></g>
<g id="n-NRMOP" class="n"><rect x="3225" y="359" width="123" height="49"/><text><tspan x="3286.5" y="374.2">negative regulation</tspan><tspan x="3286.5" y="387.5">of multicellular</tspan><tspan x="3286.5" y="400.8">organismal process</tspan></text></g>
<g id="n-CCA" class="n"><rect x="3395" y="372" width="110" height="22"/><text><tspan x="3450" y="387">cell-cell adhesion</tspan></text></g>
<g id="n-RCA" class="n"><rect x="3550" y="365" width="87" height="36"/><text><tspan x="3593.5" y="380.4">regulation of</tspan><tspan x="3593.5" y="393.7">cell adhesion</tspan></text></g>
<g id="n-NRCP" class="n"><rect x="3735" y="359" width="119" height="49"/><text><tspan x="3794.5" y="374.2">negative regulation</tspan><tspan x="3794.5" y="387.5">of cellular</tspan><tspan x="3794.5" y="400.8">process</tspan></text></g>
<g id="n-RCACT" class="n"><rect x="3899" y="365" width="90" height="36"/><text><tspan x="3944" y="380.4">regulation of</tspan><tspan x="3944" y="393.7">cell activation</tspan></text></g>
<g id="n-NRISP" class="n"><rect x="4086" y="359" width="119" height="49"/><text><tspan x="4145.5" y="374.2">negative regulation</tspan><tspan x="4145.5" y="387.5">of immune system</tspan><tspan x="4145.5" y="400.8">process</tspan></text></g>
<g id="n-LA" class="n"><rect x="4303" y="372" width="126" height="22"/><text><tspan x="4366" y="387">leukocyte activation</tspan></text></g>
<g id="n-RCPP" class="n"><rect x="4480" y="359" width="93" height="49"/><text><tspan x="4526.5" y="374.2">regulation of</tspan><tspan x="4526.5" y="387.5">cell population</tspan><tspan x="4526.5" y="400.8">proliferation</tspan></text></g>
<g id="n-LP" class="n"><rect x="4697" y="372" width="138" height="22"/><text><tspan x="4766" y="387">leukocyte proliferation</tspan></text></g>
<g id="n-RRST" class="n"><rect x="4896" y="359" width="81" height="49"/><text><tspan x="4936.5" y="374.2">regulation of</tspan><tspan x="4936.5" y="387.5">response to</tspan><tspan x="4936.5" y="400.8">stress</tspan></text></g>
<g id="n-DR" class="n"><rect x="5022" y="372" width="114" height="22"/><text><tspan x="5079" y="387">defense response</tspan></text></g>
<g id="n-RRES" class="n"><rect x="5181" y="359" width="110" height="49"/><text><tspan x="5236" y="374.2">regulation of</tspan><tspan x="5236" y="387.5">response to</tspan><tspan x="5236" y="400.8">external stimulus</tspan></text></g>
<g id="n-ROS" class="n"><rect x="5337" y="365" width="103" height="36"/><text><tspan x="5388.5" y="380.4">response to</tspan><tspan x="5388.5" y="393.7">oxidative stress</tspan></text></g>
<g id="n-ROC" class="n"><rect x="5485" y="359" width="115" height="49"/><text><tspan x="5542.5" y="374.2">response to</tspan><tspan x="5542.5" y="387.5">oxygen-containing</tspan><tspan x="5542.5" y="400.8">compound</tspan></text></g>
<g id="n-RIS" class="n"><rect x="5646" y="365" width="127" height="36"/><text><tspan x="5709.5" y="380.4">response to</tspan><tspan x="5709.5" y="393.7">inorganic substance</tspan></text></g>
<g id="n-REBS" class="n"><rect x="5818" y="359" width="91" height="49"/><text><tspan x="5863.5" y="374.2">response to</tspan><tspan x="5863.5" y="387.5">external biotic</tspan><tspan x="5863.5" y="400.8">stimulus</tspan></text></g>
<g id="n-RXS" class="n"><rect x="5956" y="355" width="125" height="57"/><rect class="t" x="5956" y="390" width="63" height="22"/><rect class="t" x="6019" y="390" width="62" height="22"/><text><tspan x="6018.5" y="369.9">response to</tspan><tspan x="6018.5" y="383.2">xenobiotic stimulus</tspan><tspan x="5987.5" y="405">Rat</tspan><tspan x="6050" y="405">Scgb1a1</tspan></text></g>
<g id="n-ROSU" class="n"><rect x="6177" y="355" width="119" height="57"/><rect class="t" x="6177" y="390" width="59" height="22"/><rect class="t" x="6236" y="390" width="60" height="22"/><text><tspan x="6236.5" y="369.9">response to</tspan><tspan x="6236.5" y="383.2">organic substance</tspan><tspan x="6206.5" y="405">Rat</tspan><tspan x="6266" y="405">Scgb1a1</tspan></text></g>
<g id="n-RGF" class="n"><rect x="6541" y="365" width="86" height="36"/><text><tspan x="6584" y="380.4">response to</tspan><tspan x="6584" y="393.7">growth factor</tspan></text></g>
<g id="n-MB" class="n"><rect x="278" y="459" width="99" height="49"/><text><tspan x="327.5" y="474.2">macromolecule</tspan><tspan x="327.5" y="487.5">biosynthetic</tspan><tspan x="327.5" y="500.8">process</tspan></text></g>
<g id="n-RCB" class="n"><rect x="473" y="459" width="126" height="49"/><text><tspan x="536" y="474.2">regulation of</tspan><tspan x="536" y="487.5">cellular biosynthetic</tspan><tspan x="536" y="500.8">process</tspan></text></g>
<g id="n-NBB" class="n"><rect x="695" y="459" width="144" height="49"/><text><tspan x="767" y="474.2">nucleobase-containing</tspan><tspan x="767" y="487.5">compound biosynthetic</tspan><tspan x="767" y="500.8">process</tspan></text></g>
<g id="n-NRB" class="n"><rect x="885" y="459" width="119" height="49"/><text><tspan x="944.5" y="474.2">negative regulation</tspan><tspan x="944.5" y="487.5">of biosynthetic</tspan><tspan x="944.5" y="500.8">process</tspan></text></g>
<g id="n-NRNCM" class="n"><rect x="1100" y="453" width="131" height="62"/><text><tspan x="1165.5" y="468">negative regulation</tspan><tspan x="1165.5" y="481.4">of nitrogen</tspan><tspan x="1165.5" y="494.7">compound metabolic</tspan><tspan x="1165.5" y="508">process</tspan></text></g>
<g id="n-NRCMP" class="n"><rect x="1277" y="459" width="119" height="49"/><text><tspan x="1336.5" y="474.2">negative regulation</tspan><tspan x="1336.5" y="487.5">of cellular</tspan><tspan x="1336.5" y="500.8">metabolic process</tspan></text></g>
<g id="n-RMM" class="n"><rect x="1442" y="459" width="115" height="49"/><text><tspan x="1499.5" y="474.2">regulation of</tspan><tspan x="1499.5" y="487.5">macromolecule</tspan><tspan x="1499.5" y="500.8">metabolic process</tspan></text></g>
<g id="n-RNBM" class="n"><rect x="1653" y="453" width="139" height="62"/><text><tspan x="1722.5" y="468">regulation of</tspan><tspan x="1722.5" y="481.4">nucleobase-containing</tspan><tspan x="1722.5" y="494.7">compound metabolic</tspan><tspan x="1722.5" y="508">process</tspan></text></g>
<g id="n-NAM" class="n"><rect x="1889" y="465" width="117" height="36"/><text><tspan x="1947.5" y="480.4">nucleic acid</tspan><tspan x="1947.5" y="493.7">metabolic process</tspan></text></g>
<g id="n-MC" class="n"><rect x="2051" y="465" width="113" height="36"/><text><tspan x="2107.5" y="480.4">macromolecule</tspan><tspan x="2107.5" y="493.7">catabolic process</tspan></text></g>
<g id="n-GE" class="n"><rect x="2209" y="472" width="106" height="22"/><text><tspan x="2262" y="487">gene expression</tspan></text></g>
<g id="n-NBC" class="n"><rect x="2360" y="459" width="139" height="49"/><text><tspan x="2429.5" y="474.2">nucleobase-containing</tspan><tspan x="2429.5" y="487.5">compound catabolic</tspan><tspan x="2429.5" y="500.8">process</tspan></text></g>
<g id="n-RCC" class="n"><rect x="2555" y="459" width="107" height="49"/><text><tspan x="2608.5" y="474.2">regulation of</tspan><tspan x="2608.5" y="487.5">cellular catabolic</tspan><tspan x="2608.5" y="500.8">process</tspan></text></g>
<g id="n-LCCA" class="n"><rect x="3320" y="465" width="115" height="36"/><text><tspan x="3377.5" y="480.4">leukocyte cell-cell</tspan><tspan x="3377.5" y="493.7">adhesion</tspan></text></g>
<g id="n-RCCA" class="n"><rect x="3481" y="465" width="111" height="36"/><text><tspan x="3536.5" y="480.4">regulation of</tspan><tspan x="3536.5" y="493.7">cell-cell adhesion</tspan></text></g>
<g id="n-NRCA" class="n"><rect x="3689" y="465" width="120" height="36"/><text><tspan x="3749" y="480.4">negative regulation</tspan><tspan x="3749" y="493.7">of cell adhesion</tspan></text></g>
<g id="n-NRCACT" class="n"><rect x="3854" y="465" width="118" height="36"/><text><tspan x="3913" y="480.4">negative regulation</tspan><tspan x="3913" y="493.7">of cell activation</tspan></text></g>
<g id="n-RLA" class="n"><rect x="4069" y="465" width="127" height="36"/><text><tspan x="4132.5" y="480.4">regulation of</tspan><tspan x="4132.5" y="493.7">leukocyte activation</tspan></text></g>
<g id="n-LYA" class="n"><rect x="4293" y="472" width="138" height="22"/><text><tspan x="4362" y="487">lymphocyte activation</tspan></text></g>
<g id="n-NRCPP" class="n"><rect x="4476" y="459" width="119" height="49"/><text><tspan x="4535.5" y="474.2">negative regulation</tspan><tspan x="4535.5" y="487.5">of cell population</tspan><tspan x="4535.5" y="500.8">proliferation</tspan></text></g>
<g id="n-MCP" class="n"><rect x="4640" y="465" width="101" height="36"/><text><tspan x="4690.5" y="480.4">mononuclear</tspan><tspan x="4690.5" y="493.7">cell proliferation</tspan></text></g>
<g id="n-RLP" class="n"><rect x="4788" y="465" width="138" height="36"/><text><tspan x="4857" y="480.4">regulation of</tspan><tspan x="4857" y="493.7">leukocyte proliferation</tspan></text></g>
<g id="n-RDR" class="n"><rect x="5022" y="465" width="114" height="36"/><text><tspan x="5079" y="480.4">regulation of</tspan><tspan x="5079" y="493.7">defense response</tspan></text></g>
<g id="n-IR" class="n"><rect x="5181" y="465" width="86" height="36"/><text><tspan x="5224" y="480.4">inflammatory</tspan><tspan x="5224" y="493.7">response</tspan></text></g>
<g id="n-RROS" class="n"><rect x="5375" y="459" width="104" height="49"/><text><tspan x="5427" y="474.2">response to</tspan><tspan x="5427" y="487.5">reactive oxygen</tspan><tspan x="5427" y="500.8">species</tspan></text></g>
<g id="n-RSD" class="n"><rect x="5574" y="454" width="107" height="58"/><rect class="t" x="5574" y="490" width="47" height="22"/><rect class="t" x="5621" y="490" width="60" height="22"/><text><tspan x="5627.5" y="469.4">response to</tspan><tspan x="5627.5" y="482.7">silicon dioxide</tspan><tspan x="5597.5" y="505">Rat</tspan><tspan x="5651" y="505">Scgb1a1</tspan></text></g>
<g id="n-ROO" class="n"><rect x="5828" y="465" width="96" height="36"/><text><tspan x="5876" y="480.4">response to</tspan><tspan x="5876" y="493.7">other organism</tspan></text></g>
<g id="n-RCY" class="n"><rect x="6021" y="454" width="101" height="58"/><rect class="t" x="6021" y="490" width="41" height="22"/><rect class="t" x="6062" y="490" width="60" height="22"/><text><tspan x="6071.5" y="469.4">response to</tspan><tspan x="6071.5" y="482.7">cytokine</tspan><tspan x="6041.5" y="505">Rat</tspan><tspan x="6092" y="505">Scgb1a1</tspan></text></g>
<g id="n-RL" class="n"><rect x="6166" y="465" width="80" height="36"/><text><tspan x="6206" y="480.4">response to</tspan><tspan x="6206" y="493.7">lipid</tspan></text></g>
<g id="n-ROCC" class="n"><rect x="6290" y="459" width="91" height="49"/><text><tspan x="6335.5" y="474.2">response to</tspan><tspan x="6335.5" y="487.5">organic cyclic</tspan><tspan x="6335.5" y="500.8">compound</tspan></text></g>
<g id="n-RH" class="n"><rect x="6428" y="465" width="79" height="36"/><text><tspan x="6467.5" y="480.4">response to</tspan><tspan x="6467.5" y="493.7">hormone</tspan></text></g>
<g id="n-RFGF" class="n"><rect x="6552" y="448" width="113" height="72"/><rect class="t" x="6552" y="498" width="53" height="22"/><rect class="t" x="6605" y="498" width="60" height="22"/><text><tspan x="6608.5" y="463.7">response to</tspan><tspan x="6608.5" y="477">fibroblast growth</tspan><tspan x="6608.5" y="490.3">factor</tspan><tspan x="6578.5" y="513">Rat</tspan><tspan x="6635" y="513">Scgb1a1</tspan></text></g>
<g id="n-RMB" class="n"><rect x="762" y="560" width="98" height="62"/><text><tspan x="811" y="575">regulation of</tspan><tspan x="811" y="588.4">macromolecule</tspan><tspan x="811" y="601.7">biosynthetic</tspan><tspan x="811" y="615">process</tspan></text></g>
<g id="n-NRCB" class="n"><rect x="1058" y="560" width="120" height="62"/><text><tspan x="1118" y="575">negative regulation</tspan><tspan x="1118" y="588.4">of cellular</tspan><tspan x="1118" y="601.7">biosynthetic</tspan><tspan x="1118" y="615">process</tspan></text></g>
<g id="n-NRMM" class="n"><rect x="1288" y="566" width="118" height="49"/><text><tspan x="1347" y="581.2">negative regulation</tspan><tspan x="1347" y="594.5">of macromolecule</tspan><tspan x="1347" y="607.8">metabolic process</tspan></text></g>
<g id="n-NRNBM" class="n"><rect x="1452" y="560" width="155" height="62"/><text><tspan x="1529.5" y="575">negative regulation</tspan><tspan x="1529.5" y="588.4">of nucleobase-containing</tspan><tspan x="1529.5" y="601.7">compound metabolic</tspan><tspan x="1529.5" y="615">process</tspan></text></g>
<g id="n-RNAM" class="n"><rect x="1847" y="572" width="96" height="36"/><text><tspan x="1895" y="587.4">RNA metabolic</tspan><tspan x="1895" y="600.7">process</tspan></text></g>
<g id="n-RGE" class="n"><rect x="2282" y="572" width="106" height="36"/><text><tspan x="2335" y="587.4">regulation of</tspan><tspan x="2335" y="600.7">gene expression</tspan></text></g>
<g id="n-CYP" class="n"><rect x="2999" y="579" width="123" height="22"/><text><tspan x="3060.5" y="594">cytokine production</tspan></text></g>
<g id="n-RLCCA" class="n"><rect x="3469" y="566" width="115" height="49"/><text><tspan x="3526.5" y="581.2">regulation of</tspan><tspan x="3526.5" y="594.5">leukocyte cell-cell</tspan><tspan x="3526.5" y="607.8">adhesion</tspan></text></g>
<g id="n-NRCCA" class="n"><rect x="3631" y="566" width="118" height="49"/><text><tspan x="3690" y="581.2">negative regulation</tspan><tspan x="3690" y="594.5">of cell-cell</tspan><tspan x="3690" y="607.8">adhesion</tspan></text></g>
<g id="n-NRLA" class="n"><rect x="3883" y="566" width="119" height="49"/><text><tspan x="3942.5" y="581.2">negative regulation</tspan><tspan x="3942.5" y="594.5">of leukocyte</tspan><tspan x="3942.5" y="607.8">activation</tspan></text></g>
<g id="n-TCA" class="n"><rect x="4047" y="579" width="103" height="22"/><text><tspan x="4098.5" y="594">T cell activation</tspan></text></g>
<g id="n-RLYA" class="n"><rect x="4195" y="572" width="137" height="36"/><text><tspan x="4263.5" y="587.4">regulation of</tspan><tspan x="4263.5" y="600.7">lymphocyte activation</tspan></text></g>
<g id="n-LYP" class="n"><rect x="4447" y="579" width="148" height="22"/><text><tspan x="4521" y="594">lymphocyte proliferation</tspan></text></g>
<g id="n-RMCP" class="n"><rect x="4640" y="566" width="101" height="49"/><text><tspan x="4690.5" y="581.2">regulation of</tspan><tspan x="4690.5" y="594.5">mononuclear</tspan><tspan x="4690.5" y="607.8">cell proliferation</tspan></text></g>
<g id="n-NRLP" class="n"><rect x="4838" y="566" width="120" height="49"/><text><tspan x="4898" y="581.2">negative regulation</tspan><tspan x="4898" y="594.5">of leukocyte</tspan><tspan x="4898" y="607.8">proliferation</tspan></text></g>
<g id="n-RIR" class="n"><rect x="5169" y="555" width="110" height="72"/><rect class="m" x="5169" y="605" width="49" height="22"/><rect class="m" x="5218" y="605" width="61" height="22"/><text><tspan x="5224" y="570.7">regulation of</tspan><tspan x="5224" y="584">inflammatory</tspan><tspan x="5224" y="597.3">response</tspan><tspan x="5193.5" y="620">Mouse</tspan><tspan x="5248.5" y="620">Scgb1a1</tspan></text></g>
<g id="n-ROZ" class="n"><rect x="5378" y="562" width="101" height="57"/><rect class="t" x="5378" y="597" width="42" height="22"/><rect class="t" x="5420" y="597" width="59" height="22"/><text><tspan x="5428.5" y="576.9">response to</tspan><tspan x="5428.5" y="590.2">ozone</tspan><tspan x="5399" y="612">Rat</tspan><tspan x="5449.5" y="612">Scgb1a1</tspan></text></g>
<g id="n-RBAC" class="n"><rect x="5836" y="572" width="79" height="36"/><text><tspan x="5875.5" y="587.4">response to</tspan><tspan x="5875.5" y="600.7">bacterium</tspan></text></g>
<g id="n-RSH" class="n"><rect x="6284" y="572" width="103" height="36"/><text><tspan x="6335.5" y="587.4">response to</tspan><tspan x="6335.5" y="600.7">steroid hormone</tspan></text></g>
<g id="n-RBIO" class="n"><rect x="994" y="676" width="111" height="36"/><text><tspan x="1049.5" y="691.4">RNA biosynthetic</tspan><tspan x="1049.5" y="704.7">process</tspan></text></g>
<g id="n-NRMB" class="n"><rect x="1151" y="661" width="119" height="64"/><text><tspan x="1210.5" y="677">negative regulation</tspan><tspan x="1210.5" y="690.4">of macromolecule</tspan><tspan x="1210.5" y="703.7">biosynthetic</tspan><tspan x="1210.5" y="717">process</tspan></text></g>
<g id="n-RRNAM" class="n"><rect x="1639" y="669" width="97" height="49"/><text><tspan x="1687.5" y="684.2">regulation of</tspan><tspan x="1687.5" y="697.5">RNA metabolic</tspan><tspan x="1687.5" y="710.8">process</tspan></text></g>
<g id="n-MRM" class="n"><rect x="1882" y="676" width="108" height="36"/><text><tspan x="1936" y="691.4">mRNA metabolic</tspan><tspan x="1936" y="704.7">process</tspan></text></g>
<g id="n-RC" class="n"><rect x="2036" y="676" width="92" height="36"/><text><tspan x="2082" y="691.4">RNA catabolic</tspan><tspan x="2082" y="704.7">process</tspan></text></g>
<g id="n-NRGE" class="n"><rect x="2173" y="676" width="121" height="36"/><text><tspan x="2233.5" y="691.4">negative regulation</tspan><tspan x="2233.5" y="704.7">of gene expression</tspan></text></g>
<g id="n-PTR" class="n"><rect x="2390" y="669" width="119" height="49"/><text><tspan x="2449.5" y="684.2">post-transcriptional</tspan><tspan x="2449.5" y="697.5">regulation of</tspan><tspan x="2449.5" y="710.8">gene expression</tspan></text></g>
<g id="n-T2P" class="n"><rect x="2737" y="664" width="114" height="56"/><rect class="m" x="2737" y="698" width="54" height="22"/><rect class="m" x="2791" y="698" width="60" height="22"/><text><tspan x="2794" y="678.4">type II interferon</tspan><tspan x="2794" y="691.7">production</tspan><tspan x="2764" y="713">Mouse</tspan><tspan x="2821" y="713">Scgb1a1</tspan></text></g>
<g id="n-IL4P" class="n"><rect x="2896" y="664" width="109" height="56"/><rect class="m" x="2896" y="698" width="49" height="22"/><rect class="m" x="2945" y="698" width="60" height="22"/><text><tspan x="2950.5" y="678.4">interleukin-4</tspan><tspan x="2950.5" y="691.7">production</tspan><tspan x="2920.5" y="713">Mouse</tspan><tspan x="2975" y="713">Scgb1a1</tspan></text></g>
<g id="n-RCYP" class="n"><rect x="3101" y="676" width="123" height="36"/><text><tspan x="3162.5" y="691.4">regulation of</tspan><tspan x="3162.5" y="704.7">cytokine production</tspan></text></g>
<g id="n-IL5P" class="n"><rect x="3320" y="664" width="110" height="56"/><rect class="m" x="3320" y="698" width="49" height="22"/><rect class="m" x="3369" y="698" width="61" height="22"/><text><tspan x="3375" y="678.4">interleukin-5</tspan><tspan x="3375" y="691.7">production</tspan><tspan x="3344.5" y="713">Mouse</tspan><tspan x="3399.5" y="713">Scgb1a1</tspan></text></g>
<g id="n-IL13P" class="n"><rect x="3475" y="664" width="109" height="56"/><rect class="m" x="3475" y="698" width="48" height="22"/><rect class="m" x="3523" y="698" width="61" height="22"/><text><tspan x="3529.5" y="678.4">interleukin-13</tspan><tspan x="3529.5" y="691.7">production</tspan><tspan x="3499" y="713">Mouse</tspan><tspan x="3553.5" y="713">Scgb1a1</tspan></text></g>
<g id="n-NRLCCA" class="n"><rect x="3631" y="669" width="118" height="49"/><text><tspan x="3690" y="684.2">negative regulation</tspan><tspan x="3690" y="697.5">of leukocyte</tspan><tspan x="3690" y="710.8">cell-cell adhesion</tspan></text></g>
<g id="n-RTCA" class="n"><rect x="4027" y="676" width="103" height="36"/><text><tspan x="4078.5" y="691.4">regulation of</tspan><tspan x="4078.5" y="704.7">T cell activation</tspan></text></g>
<g id="n-NRLYA" class="n"><rect x="4175" y="669" width="119" height="49"/><text><tspan x="4234.5" y="684.2">negative regulation</tspan><tspan x="4234.5" y="697.5">of lymphocyte</tspan><tspan x="4234.5" y="710.8">activation</tspan></text></g>
<g id="n-TCP" class="n"><rect x="4338" y="671" width="118" height="45"/><rect class="m" x="4338" y="694" width="58" height="22"/><rect class="m" x="4396" y="694" width="60" height="22"/><text><tspan x="4397" y="686.5">T cell proliferation</tspan><tspan x="4367" y="709">Mouse</tspan><tspan x="4426" y="709">Scgb1a1</tspan></text></g>
<g id="n-RLYP" class="n"><rect x="4502" y="676" width="149" height="36"/><text><tspan x="4576.5" y="691.4">regulation of</tspan><tspan x="4576.5" y="704.7">lymphocyte proliferation</tspan></text></g>
<g id="n-NRMCP" class="n"><rect x="4748" y="669" width="119" height="49"/><text><tspan x="4807.5" y="684.2">negative regulation</tspan><tspan x="4807.5" y="697.5">of mononuclear</tspan><tspan x="4807.5" y="710.8">cell proliferation</tspan></text></g>
<g id="n-RMBO" class="n"><rect x="5828" y="669" width="95" height="49"/><text><tspan x="5875.5" y="684.2">response to</tspan><tspan x="5875.5" y="697.5">molecule of</tspan><tspan x="5875.5" y="710.8">bacterial origin</tspan></text></g>
<g id="n-RCS" class="n"><rect x="6292" y="676" width="89" height="36"/><text><tspan x="6336.5" y="691.4">response to</tspan><tspan x="6336.5" y="704.7">corticosteroid</tspan></text></g>
<g id="n-NAT" class="n"><rect x="980" y="772" width="140" height="36"/><text><tspan x="1050" y="787.4">nucleic acid-templated</tspan><tspan x="1050" y="800.7">transcription</tspan></text></g>
<g id="n-RRB" class="n"><rect x="1165" y="766" width="111" height="49"/><text><tspan x="1220.5" y="781.2">regulation of</tspan><tspan x="1220.5" y="794.5">RNA biosynthetic</tspan><tspan x="1220.5" y="807.8">process</tspan></text></g>
<g id="n-NRRM" class="n"><rect x="1503" y="766" width="120" height="49"/><text><tspan x="1563" y="781.2">negative regulation</tspan><tspan x="1563" y="794.5">of RNA metabolic</tspan><tspan x="1563" y="807.8">process</tspan></text></g>
<g id="n-RMRM" class="n"><rect x="1882" y="766" width="108" height="49"/><text><tspan x="1936" y="781.2">regulation of</tspan><tspan x="1936" y="794.5">mRNA metabolic</tspan><tspan x="1936" y="807.8">process</tspan></text></g>
<g id="n-MRC" class="n"><rect x="2109" y="772" width="104" height="36"/><text><tspan x="2161" y="787.4">mRNA catabolic</tspan><tspan x="2161" y="800.7">process</tspan></text></g>
<g id="n-RRSTB" class="n"><rect x="2404" y="772" width="86" height="36"/><text><tspan x="2447" y="787.4">regulation of</tspan><tspan x="2447" y="800.7">RNA stability</tspan></text></g>
<g id="n-RT2P" class="n"><rect x="2744" y="766" width="106" height="49"/><text><tspan x="2797" y="781.2">regulation of</tspan><tspan x="2797" y="794.5">type II interferon</tspan><tspan x="2797" y="807.8">production</tspan></text></g>
<g id="n-RIL4" class="n"><rect x="2947" y="766" width="82" height="49"/><text><tspan x="2988" y="781.2">regulation of</tspan><tspan x="2988" y="794.5">interleukin-4</tspan><tspan x="2988" y="807.8">production</tspan></text></g>
<g id="n-NRCYP" class="n"><rect x="3074" y="766" width="118" height="49"/><text><tspan x="3133" y="781.2">negative regulation</tspan><tspan x="3133" y="794.5">of cytokine</tspan><tspan x="3133" y="807.8">production</tspan></text></g>
<g id="n-RIL5" class="n"><rect x="3238" y="766" width="81" height="49"/><text><tspan x="3278.5" y="781.2">regulation of</tspan><tspan x="3278.5" y="794.5">interleukin-5</tspan><tspan x="3278.5" y="807.8">production</tspan></text></g>
<g id="n-RIL13" class="n"><rect x="3416" y="766" width="87" height="49"/><text><tspan x="3459.5" y="781.2">regulation of</tspan><tspan x="3459.5" y="794.5">interleukin-13</tspan><tspan x="3459.5" y="807.8">production</tspan></text></g>
<g id="n-NRTCA" class="n"><rect x="4018" y="772" width="120" height="36"/><text><tspan x="4078" y="787.4">negative regulation</tspan><tspan x="4078" y="800.7">of T cell activation</tspan></text></g>
<g id="n-RTCP" class="n"><rect x="4334" y="772" width="113" height="36"/><text><tspan x="4390.5" y="787.4">regulation of</tspan><tspan x="4390.5" y="800.7">T cell proliferation</tspan></text></g>
<g id="n-NRLYP" class="n"><rect x="4518" y="766" width="118" height="49"/><text><tspan x="4577" y="781.2">negative regulation</tspan><tspan x="4577" y="794.5">of lymphocyte</tspan><tspan x="4577" y="807.8">proliferation</tspan></text></g>
<g id="n-RLPS" class="n"><rect x="5816" y="761" width="120" height="57"/><rect class="t" x="5816" y="796" width="60" height="22"/><rect class="t" x="5876" y="796" width="60" height="22"/><text><tspan x="5876" y="775.9">response to</tspan><tspan x="5876" y="789.2">lipopolysaccharide</tspan><tspan x="5846" y="811">Rat</tspan><tspan x="5906" y="811">Scgb1a1</tspan></text></g>
<g id="n-RGC" class="n"><rect x="6283" y="761" width="107" height="57"/><rect class="t" x="6283" y="796" width="47" height="22"/><rect class="t" x="6330" y="796" width="60" height="22"/><text><tspan x="6336.5" y="775.9">response to</tspan><tspan x="6336.5" y="789.2">glucocorticoid</tspan><tspan x="6306.5" y="811">Rat</tspan><tspan x="6360" y="811">Scgb1a1</tspan></text></g>
<g id="n-DT" class="n"><rect x="988" y="873" width="99" height="36"/><text><tspan x="1037.5" y="888.4">DNA-templated</tspan><tspan x="1037.5" y="901.7">transcription</tspan></text></g>
<g id="n-RNAT" class="n"><rect x="1133" y="866" width="141" height="49"/><text><tspan x="1203.5" y="881.2">regulation of</tspan><tspan x="1203.5" y="894.5">nucleic acid-templated</tspan><tspan x="1203.5" y="907.8">transcription</tspan></text></g>
<g id="n-NRRB" class="n"><rect x="1369" y="866" width="125" height="49"/><text><tspan x="1431.5" y="881.2">negative regulation</tspan><tspan x="1431.5" y="894.5">of RNA biosynthetic</tspan><tspan x="1431.5" y="907.8">process</tspan></text></g>
<g id="n-RMRC" class="n"><rect x="2289" y="866" width="103" height="49"/><text><tspan x="2340.5" y="881.2">regulation of</tspan><tspan x="2340.5" y="894.5">mRNA catabolic</tspan><tspan x="2340.5" y="907.8">process</tspan></text></g>
<g id="n-NRT2P" class="n"><rect x="2736" y="855" width="122" height="71"/><rect class="m" x="2736" y="904" width="61" height="22"/><rect class="m" x="2797" y="904" width="61" height="22"/><text><tspan x="2797" y="870.2">negative regulation</tspan><tspan x="2797" y="883.5">of type II interferon</tspan><tspan x="2797" y="896.8">production</tspan><tspan x="2766.5" y="919">Mouse</tspan><tspan x="2827.5" y="919">Scgb1a1</tspan></text></g>
<g id="n-NRIL4" class="n"><rect x="2928" y="855" width="121" height="71"/><rect class="m" x="2928" y="904" width="60" height="22"/><rect class="m" x="2988" y="904" width="61" height="22"/><text><tspan x="2988.5" y="870.2">negative regulation</tspan><tspan x="2988.5" y="883.5">of interleukin-4</tspan><tspan x="2988.5" y="896.8">production</tspan><tspan x="2958" y="919">Mouse</tspan><tspan x="3018.5" y="919">Scgb1a1</tspan></text></g>
<g id="n-NRIL5" class="n"><rect x="3219" y="855" width="120" height="71"/><rect class="m" x="3219" y="904" width="60" height="22"/><rect class="m" x="3279" y="904" width="60" height="22"/><text><tspan x="3279" y="870.2">negative regulation</tspan><tspan x="3279" y="883.5">of interleukin-5</tspan><tspan x="3279" y="896.8">production</tspan><tspan x="3249" y="919">Mouse</tspan><tspan x="3309" y="919">Scgb1a1</tspan></text></g>
<g id="n-NRIL13" class="n"><rect x="3400" y="855" width="121" height="71"/><rect class="m" x="3400" y="904" width="60" height="22"/><rect class="m" x="3460" y="904" width="61" height="22"/><text><tspan x="3460.5" y="870.2">negative regulation</tspan><tspan x="3460.5" y="883.5">of interleukin-13</tspan><tspan x="3460.5" y="896.8">production</tspan><tspan x="3430" y="919">Mouse</tspan><tspan x="3490.5" y="919">Scgb1a1</tspan></text></g>
<g id="n-NRTCP" class="n"><rect x="4272" y="861" width="129" height="58"/><rect class="m" x="4272" y="897" width="66" height="22"/><rect class="m" x="4338" y="897" width="63" height="22"/><text><tspan x="4336.5" y="876.4">negative regulation</tspan><tspan x="4336.5" y="889.7">of T cell proliferation</tspan><tspan x="4305" y="912">Mouse</tspan><tspan x="4369.5" y="912">Scgb1a1</tspan></text></g>
<g id="n-TRP2" class="n"><rect x="906" y="967" width="126" height="49"/><text><tspan x="969" y="982.2">transcription</tspan><tspan x="969" y="995.5">by RNA polymerase</tspan><tspan x="969" y="1008.8">II</tspan></text></g>
<g id="n-RDT" class="n"><rect x="1128" y="967" width="99" height="49"/><text><tspan x="1177.5" y="982.2">regulation of</tspan><tspan x="1177.5" y="995.5">DNA-templated</tspan><tspan x="1177.5" y="1008.8">transcription</tspan></text></g>
<g id="n-NRNAT" class="n"><rect x="1272" y="967" width="155" height="49"/><text><tspan x="1349.5" y="982.2">negative regulation</tspan><tspan x="1349.5" y="995.5">of nucleic acid-templated</tspan><tspan x="1349.5" y="1008.8">transcription</tspan></text></g>
<g id="n-RMS" class="n"><rect x="2337" y="962" width="110" height="58"/><rect class="m" x="2337" y="998" width="50" height="22"/><rect class="m" x="2387" y="998" width="60" height="22"/><text><tspan x="2392" y="977.4">regulation of</tspan><tspan x="2392" y="990.7">mRNA stability</tspan><tspan x="2362" y="1013">Mouse</tspan><tspan x="2417" y="1013">Scgb1a1</tspan></text></g>
<g id="n-RTRP2" class="n"><rect x="981" y="1056" width="126" height="64"/><text><tspan x="1044" y="1072">regulation of</tspan><tspan x="1044" y="1085.4">transcription</tspan><tspan x="1044" y="1098.7">by RNA polymerase</tspan><tspan x="1044" y="1112">II</tspan></text></g>
<g id="n-NRDT" class="n"><rect x="1153" y="1062" width="119" height="50"/><text><tspan x="1212.5" y="1077.7">negative regulation</tspan><tspan x="1212.5" y="1091">of DNA-templated</tspan><tspan x="1212.5" y="1104.3">transcription</tspan></text></g>
<g id="n-NRTRP2" class="n"><rect x="980" y="1156" width="127" height="83"/><rect class="m" x="980" y="1217" width="64" height="22"/><rect class="m" x="1044" y="1217" width="63" height="22"/><text><tspan x="1043.5" y="1170.5">negative regulation</tspan><tspan x="1043.5" y="1183.9">of transcription</tspan><tspan x="1043.5" y="1197.2">by RNA polymerase</tspan><tspan x="1043.5" y="1210.5">II</tspan><tspan x="1012" y="1232">Mouse</tspan><tspan x="1075.5" y="1232">Scgb1a1</tspan></text></g>
</svg>
